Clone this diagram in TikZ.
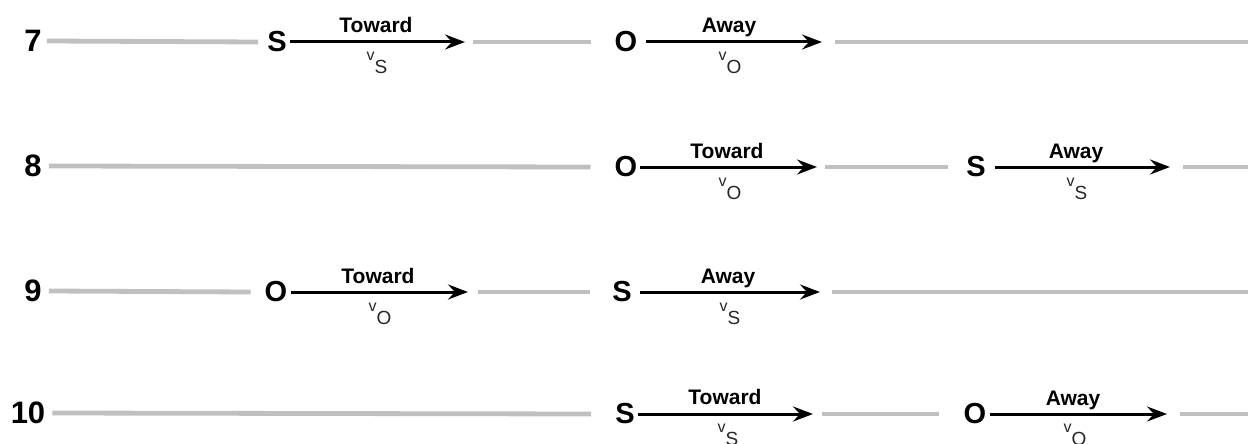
\documentclass[tikz,border=0pt]{standalone}
\usepackage{fontspec}
\setmainfont{Liberation Sans}
\usetikzlibrary{arrows.meta}
\definecolor{lg}{RGB}{192,192,192}
\newcommand\velsub[1]{v\raisebox{-13pt}{\fontsize{19}{19}\selectfont #1}}
\begin{document}
\begin{tikzpicture}[x=1pt,y=-1pt,
 num/.style={font=\fontsize{31}{31}\selectfont\bfseries, inner sep=0pt},
 letr/.style={font=\fontsize{29}{29}\selectfont\bfseries, inner sep=0pt},
 lab/.style={font=\fontsize{21}{21}\selectfont\bfseries, inner sep=0pt, anchor=base},
 vel/.style={font=\fontsize{16}{16}\selectfont, inner sep=0pt, anchor=base, text=black!85},
 gl/.style={draw=lg, line width=4.8pt},
 ar/.style={draw=black, line width=3pt, -{Stealth[length=20pt,width=15pt,inset=7pt]}}]
\useasboundingbox (0,0) rectangle (1248,444);

% ---------- row 7 ----------
\node[num] (n7) at (33,41) {7};
\node[letr] (s7) at (277,42) {S};
\node[letr] (o7) at (626,42) {O};
\coordinate (h7a) at (465,42);
\coordinate (h7b) at (822,42);
\coordinate (e7) at (1248,42);
\draw[gl] ([xshift=5pt]n7.east) -- ([xshift=-9pt]s7.west);
\draw[ar] ([xshift=3pt]s7.east) -- (h7a);
\draw[gl] ([xshift=8pt]h7a) -- ([xshift=-24pt]o7.west);
\draw[ar] ([xshift=9pt]o7.east) -- (h7b);
\draw[gl] ([xshift=13pt]h7b) -- (e7);
\node[lab] (t7a) at (376,33) {Toward};
\node[vel] (v7a) at (377,61) {\velsub{S}};
\node[lab] (t7b) at (729,33) {Away};
\node[vel] (v7b) at (730,61) {\velsub{O}};

% ---------- row 8 ----------
\node[num] (n8) at (33,166) {8};
\node[letr] (o8) at (626,167) {O};
\node[letr] (s8) at (976,167) {S};
\coordinate (h8a) at (817,167);
\coordinate (h8b) at (1170,167);
\coordinate (e8) at (1248,167);
\draw[gl] ([xshift=7pt]n8.east) -- ([xshift=-24pt]o8.west);
\draw[ar] ([xshift=3pt]o8.east) -- (h8a);
\draw[gl] ([xshift=8pt]h8a) -- ([xshift=-18pt]s8.west);
\draw[ar] ([xshift=9pt]s8.east) -- (h8b);
\draw[gl] ([xshift=13pt]h8b) -- (e8);
\node[lab] (t8a) at (727,158) {Toward};
\node[vel] (v8a) at (730,186) {\velsub{O}};
\node[lab] (t8b) at (1076,158) {Away};
\node[vel] (v8b) at (1077,186) {\velsub{S}};

% ---------- row 9 ----------
\node[num] (n9) at (33,291) {9};
\node[letr] (o9) at (276,292) {O};
\node[letr] (s9) at (622,292) {S};
\coordinate (h9a) at (468,292);
\coordinate (h9b) at (820,292);
\coordinate (e9) at (1248,292);
\draw[gl] ([xshift=7pt]n9.east) -- ([xshift=-14pt]o9.west);
\draw[ar] ([xshift=4pt]o9.east) -- (h9a);
\draw[gl] ([xshift=10pt]h9a) -- ([xshift=-22pt]s9.west);
\draw[ar] ([xshift=8pt]s9.east) -- (h9b);
\draw[gl] ([xshift=12pt]h9b) -- (e9);
\node[lab] (t9a) at (378,283) {Toward};
\node[vel] (v9a) at (380,311) {\velsub{O}};
\node[lab] (t9b) at (728,283) {Away};
\node[vel] (v9b) at (730,311) {\velsub{S}};

% ---------- row 10 ----------
\node[num] (n10) at (28,413) {10};
\node[letr] (s10) at (625,414) {S};
\node[letr] (o10) at (975,414) {O};
\coordinate (h10a) at (813,414);
\coordinate (h10b) at (1167,414);
\coordinate (e10) at (1248,414);
\draw[gl] ([xshift=7pt]n10.east) -- ([xshift=-24pt]s10.west);
\draw[ar] ([xshift=3pt]s10.east) -- (h10a);
\draw[gl] ([xshift=9pt]h10a) -- ([xshift=-25pt]o10.west);
\draw[ar] ([xshift=4pt]o10.east) -- (h10b);
\draw[gl] ([xshift=13pt]h10b) -- (e10);
\node[lab] (t10a) at (725,404) {Toward};
\node[vel] (v10a) at (728,432) {\velsub{S}};
\node[lab] (t10b) at (1073,405) {Away};
\node[vel] (v10b) at (1075,432) {\velsub{O}};
\end{tikzpicture}
\end{document}
